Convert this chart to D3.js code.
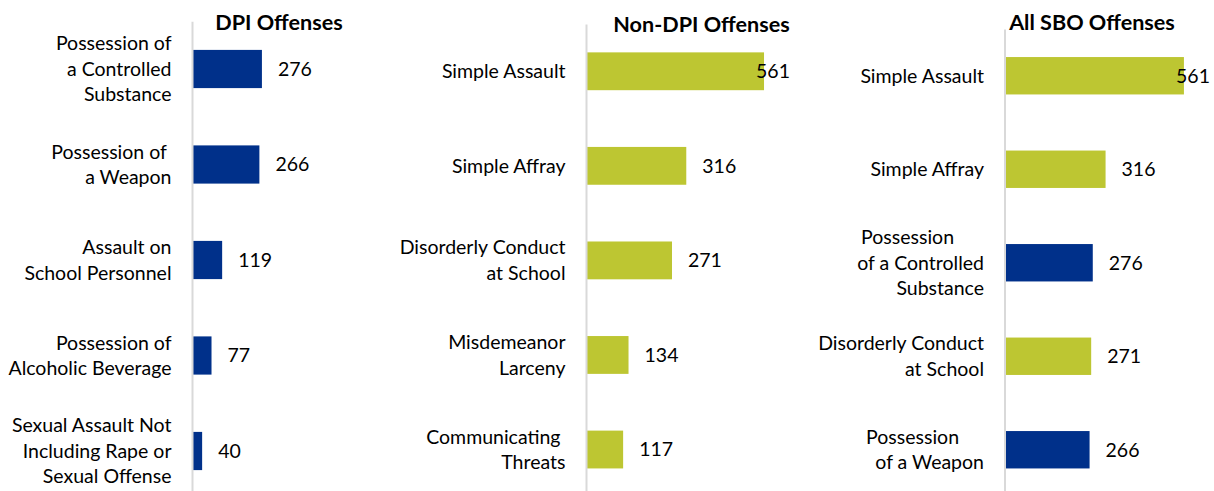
<!DOCTYPE html>
<html>
<head>
<meta charset="utf-8">
<script src="https://cdn.jsdelivr.net/npm/d3@7"></script>
<style>
  html, body { margin: 0; padding: 0; background: #ffffff; }
  svg { display: block; font-family: Lato, "Open Sans", sans-serif; }
  text { white-space: pre; }
</style>
</head>
<body>
<svg id="chart" width="1214" height="491"></svg>
<script>
// ---- Data ----
const dpiCategories = [
  "Possession of\na Controlled\nSubstance",
  "Possession of \na Weapon",
  "Assault on\nSchool Personnel",
  "Possession of\nAlcoholic Beverage",
  "Sexual Assault Not\nIncluding Rape or\nSexual Offense"
];
const dpiValues = [276, 266, 119, 77, 40];
const dpiTypes = ["DPI", "DPI", "DPI", "DPI", "DPI"];

const nonDpiCategories = [
  "Simple Assault",
  "Simple Affray",
  "Disorderly Conduct\nat School",
  "Misdemeanor\nLarceny",
  "Communicating \nThreats"
];
const nonDpiValues = [561, 316, 271, 134, 117];
const nonDpiTypes = ["Non-DPI", "Non-DPI", "Non-DPI", "Non-DPI", "Non-DPI"];

const allCategories = [
  "Simple Assault",
  "Simple Affray",
  "Possession      \nof a Controlled\nSubstance",
  "Disorderly Conduct\nat School",
  "Possession     \nof a Weapon"
];
const allValues = [561, 316, 276, 271, 266];
const allTypes = ["Non-DPI", "Non-DPI", "DPI", "Non-DPI", "DPI"];

const panelTitles = ["DPI Offenses", "Non-DPI Offenses", "All SBO Offenses"];
const axisMaxima = [300, 600, 600];

// ---- Layout / style ----
const typeColor = d3.scaleOrdinal().domain(["DPI", "Non-DPI"]).range(["#00308A", "#BDC632"]);
const panels = [
  { cats: dpiCategories, vals: dpiValues, types: dpiTypes, title: panelTitles[0], max: axisMaxima[0],
    x0: 192, x1: 268, y0: 21.25, y1: 498.75, clip: 400, titleX: 279, titleY: 29.5 },
  { cats: nonDpiCategories, vals: nonDpiValues, types: nonDpiTypes, title: panelTitles[1], max: axisMaxima[1],
    x0: 586, x1: 776.4, y0: 24, y1: 496.8, clip: 790, titleX: 701.5, titleY: 31.5 },
  { cats: allCategories, vals: allValues, types: allTypes, title: panelTitles[2], max: axisMaxima[2],
    x0: 1004.5, x1: 1196.4, y0: 29, y1: 496.5, clip: 1210, titleX: 1092, titleY: 29.5 }
];

const FONT = 19.5;
const TITLE_FONT = 21.6;
const LINE_H = 25.5;
const svg = d3.select("#chart");

panels.forEach(p => {
  const g = svg.append("g");
  const x = d3.scaleLinear().domain([0, p.max]).range([p.x0, p.x1]);
  const y = d3.scaleBand().domain(p.cats).range([p.y0, p.y1]).paddingInner(0.6).paddingOuter(0.3);
  const rows = p.cats.map((c, i) => ({ cat: c, val: p.vals[i], type: p.types[i] }));

  // bars
  g.selectAll("rect.bar").data(rows).join("rect")
    .attr("class", "bar")
    .attr("x", x(0))
    .attr("y", d => y(d.cat))
    .attr("width", d => x(d.val) - x(0))
    .attr("height", y.bandwidth())
    .attr("fill", d => typeColor(d.type));

  // axis line (category axis, no ticks)
  const axis = d3.axisLeft(y).tickSize(0).tickFormat("");
  const ag = g.append("g").attr("transform", `translate(${x(0)},0)`).call(axis);
  ag.select(".domain").attr("stroke", "#d9d9d9").attr("stroke-width", 2);

  // category labels (multi-line, right aligned)
  rows.forEach(d => {
    const lines = d.cat.split("\n");
    const cy = y(d.cat) + y.bandwidth() / 2;
    const t = g.append("text")
      .attr("text-anchor", "end")
      .attr("font-size", FONT)
      .attr("fill", "#000");
    lines.forEach((ln, i) => {
      t.append("tspan")
        .attr("x", x(0) - 20.5)
        .attr("y", cy + (i - (lines.length - 1) / 2) * LINE_H)
        .attr("dy", "0.35em")
        .text(ln);
    });
  });

  // value labels
  rows.forEach(d => {
    const cy = y(d.cat) + y.bandwidth() / 2;
    const t = g.append("text")
      .attr("font-size", FONT)
      .attr("fill", "#000")
      .attr("y", cy)
      .attr("dy", "0.35em")
      .text(d.val);
    const w = t.node().getComputedTextLength();
    t.attr("x", Math.min(x(d.val) + 16, p.clip - w));
  });

  // title
  g.append("text")
    .attr("x", p.titleX)
    .attr("y", p.titleY)
    .attr("text-anchor", "middle")
    .attr("font-size", TITLE_FONT)
    .attr("font-weight", "bold")
    .attr("fill", "#000")
    .text(p.title);
});
</script>
</body>
</html>
